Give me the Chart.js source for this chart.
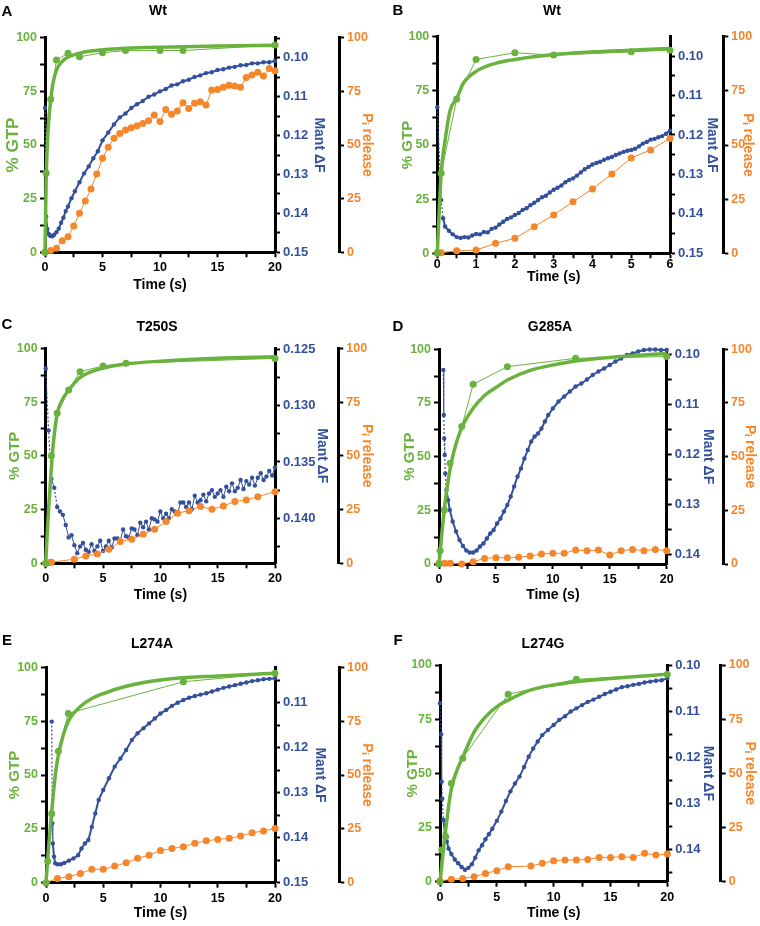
<!DOCTYPE html>
<html><head><meta charset="utf-8">
<script src="https://cdn.jsdelivr.net/npm/chart.js@4"></script>
<style>
html,body{margin:0;padding:0;background:#fff;width:760px;height:926px;overflow:hidden;font-family:"Liberation Sans",Arial,Helvetica,sans-serif;}
canvas{position:absolute;}
.lbl{position:absolute;font-weight:bold;color:#000;transform:translate(-50%,-50%);white-space:nowrap;line-height:1;}
</style></head><body>
<script>
// ---------- tick labels ----------
const gtpTicks = [0, 25, 50, 75, 100];
const piTicks = [0, 25, 50, 75, 100];
const time20Ticks = [0, 5, 10, 15, 20];
const time6Ticks = [0, 1, 2, 3, 4, 5, 6];
const mantTicksAB = [0.10, 0.11, 0.12, 0.13, 0.14, 0.15];
const mantTicksC = [0.125, 0.130, 0.135, 0.140];
const mantTicksDF = [0.10, 0.11, 0.12, 0.13, 0.14];
const mantTicksE = [0.11, 0.12, 0.13, 0.14, 0.15];

// ---------- panel A (Wt, 20 s) ----------
const A_gtpT = [0, 0.1, 0.5, 1, 2, 3, 5, 7, 10, 12, 20];
const A_gtpV = [0, 36.8, 71.3, 89.6, 92.7, 91.1, 93, 94, 94, 94, 96.6];
const A_fitT = [0, 0.1, 0.2, 0.3, 0.5, 0.7, 1, 1.5, 2, 3, 4, 5, 7, 10, 15, 20];
const A_fitV = [0, 33, 50, 60, 71, 79, 85, 89, 91, 92.8, 93.8, 94.4, 95.1, 95.6, 96.1, 96.5];
const A_piT = [0,0.5,1,1.5,2,2.5,3,3.5,4,4.5,5,5.5,6,6.5,7,7.5,8,8.5,9,9.5,10,10.5,11,11.5,12,12.5,13,13.5,14,14.5,15,15.5,16,16.5,17,17.5,18,18.5,19,19.5,20];
const A_piV = [0,0.8,1.9,5.4,7.3,12.3,18.2,23.9,29.5,36.5,43.8,48.9,53.1,55.4,57,58,59,60,61.3,64,60.9,66.6,64.3,65.8,69.7,67,69.4,70.2,68.6,75.6,75.9,76.9,77.9,77.5,76.9,81.5,82.6,83.9,82.1,85.7,84.6];
const A_mantT = [0,0.1,0.2,0.3,0.4,0.5,0.6,0.7,0.8,1.0,1.2,1.4,1.6,1.8,2.0,2.3,2.6,3.0,3.4,3.8,4.2,4.6,5.0,5.5,6,6.5,7,7.5,8,8.5,9,9.5,10,10.5,11,11.5,12,12.5,13,13.5,14,14.5,15,15.5,16,16.5,17,17.5,18,18.5,19,19.5,20];
const A_mantV = [0.1129,0.1408,0.1440,0.1452,0.1456,0.1458,0.1459,0.1457,0.1455,0.1448,0.1439,0.1424,0.1411,0.1394,0.1382,0.1361,0.1343,0.1320,0.1297,0.1279,0.1258,0.1240,0.1212,0.1192,0.1171,0.1153,0.1143,0.1129,0.1119,0.1111,0.1100,0.1094,0.1086,0.1080,0.1071,0.1068,0.1060,0.1056,0.1049,0.1045,0.1039,0.1037,0.1031,0.1029,0.1025,0.1023,0.1019,0.1018,0.1014,0.1014,0.1011,0.1011,0.1008];

// ---------- panel B (Wt, 6 s) ----------
const B_gtpT = [0, 0.1, 0.5, 1, 2, 3, 5, 6];
const B_gtpV = [0, 37, 71.2, 89.5, 92.6, 91.5, 93, 93.8];
const B_fitT = [0, 0.1, 0.2, 0.33, 0.5, 0.67, 1, 1.5, 2, 3, 4, 5, 6];
const B_fitV = [0, 37, 52, 66, 71.5, 78.5, 84, 87.7, 89.5, 91.8, 93, 93.8, 94.6];
const B_piT = [0,0.1,0.5,1,1.5,2,2.5,3,3.5,4,4.5,5,5.5,6];
const B_piV = [0.3,0.3,1.2,1.5,4.6,6.9,12.3,17.7,23.8,29.7,36.6,44,47.7,53];
const B_mantT = [0,0.1,0.15,0.2,0.3,0.4,0.5,0.6,0.7,0.8,0.9,1.0,1.1,1.2,1.3,1.4,1.5,1.6,1.7,1.8,1.9,2.0,2.1,2.2,2.3,2.4,2.5,2.6,2.7,2.8,2.9,3.0,3.1,3.2,3.3,3.4,3.5,3.6,3.7,3.8,3.9,4.0,4.1,4.2,4.3,4.4,4.5,4.6,4.7,4.8,4.9,5.0,5.1,5.2,5.3,5.4,5.5,5.6,5.7,5.8,5.9,6.0];
const B_mantV = [0.1130,0.1365,0.1411,0.1432,0.1443,0.1452,0.1459,0.1461,0.1459,0.1460,0.1455,0.1451,0.1452,0.1446,0.1447,0.1438,0.1435,0.1427,0.1420,0.1413,0.1409,0.1403,0.1398,0.1390,0.1386,0.1378,0.1372,0.1365,0.1358,0.1354,0.1346,0.1339,0.1334,0.1328,0.1320,0.1314,0.1310,0.1303,0.1295,0.1287,0.1281,0.1275,0.1271,0.1268,0.1263,0.1259,0.1256,0.1251,0.1247,0.1243,0.1240,0.1238,0.1235,0.1229,0.1222,0.1218,0.1212,0.1210,0.1206,0.1203,0.1197,0.1189];

// ---------- panel C (T250S) ----------
const C_gtpT = [0, 0.5, 1, 2, 3, 5, 7, 20];
const C_gtpV = [0, 50, 69.8, 80.6, 89.1, 91.8, 93, 95.3];
const C_fitT = [0, 0.25, 0.5, 0.67, 1, 1.5, 2, 3, 4, 5, 7, 10, 15, 20];
const C_fitV = [0, 25, 45, 56, 69.5, 76.5, 80.5, 86.5, 89.2, 90.8, 92.7, 94, 95.4, 96.1];
const C_piT = [0,0.25,0.5,2.5,3.5,4.5,5.5,6.5,7.5,8.5,9.5,10.5,11.5,12.5,13.5,14.5,15.5,16.5,17.5,18.5,20];
const C_piV = [0,0.3,0.5,1.9,3.4,4.3,6.5,10.1,11.2,13.5,15.8,19.4,23.3,24.5,26.4,25.1,26.7,28.7,29.5,31,33.3];
const C_mantT = [0,0.25,0.5,0.75,1,1.25,1.5,1.75,2,2.25,2.5,2.75,3,3.25,3.5,3.75,4,4.25,4.5,4.75,5,5.25,5.5,5.75,6,6.25,6.5,6.75,7,7.25,7.5,7.75,8,8.25,8.5,8.75,9,9.25,9.5,9.75,10,10.25,10.5,10.75,11,11.25,11.5,11.75,12,12.25,12.5,12.75,13,13.25,13.5,13.75,14,14.25,14.5,14.75,15,15.25,15.5,15.75,16,16.25,16.5,16.75,17,17.25,17.5,17.75,18,18.25,18.5,18.75,19,19.25,19.5,19.75,20];
const C_mantV = [0.1267,0.1322,0.1365,0.1373,0.1390,0.1394,0.1397,0.1406,0.1417,0.1415,0.1424,0.1431,0.1425,0.1422,0.1428,0.1430,0.1423,0.1429,0.1425,0.1420,0.1429,0.1425,0.1420,0.1426,0.1418,0.1418,0.1420,0.1410,0.1416,0.1417,0.1409,0.1410,0.1415,0.1404,0.1408,0.1403,0.1410,0.1400,0.1401,0.1403,0.1394,0.1400,0.1396,0.1400,0.1392,0.1394,0.1396,0.1386,0.1386,0.1390,0.1386,0.1392,0.1380,0.1386,0.1384,0.1379,0.1385,0.1378,0.1375,0.1381,0.1378,0.1375,0.1381,0.1372,0.1376,0.1369,0.1376,0.1373,0.1366,0.1374,0.1367,0.1370,0.1364,0.1371,0.1364,0.1360,0.1366,0.1363,0.1358,0.1362,0.1355];

// ---------- panel D (G285A) ----------
const D_gtpT = [0, 0.1, 0.47, 0.97, 2, 3, 6, 12, 20];
const D_gtpV = [0, 6.2, 25.2, 46.9, 64, 83.7, 91.9, 95.8, 96.6];
const D_fitT = [0, 0.5, 1, 1.5, 2, 3, 4, 5, 6, 8, 10, 12, 15, 20];
const D_fitV = [0, 27, 45, 56, 63.5, 72.5, 78.5, 82.2, 85.7, 90.2, 92.7, 94.6, 96.2, 98];
const D_piT = [0,0.5,1,2,3,4,5,6,7,8,9,10,11,12,13,14,15,16,17,18,19,20];
const D_piV = [0.3,0.3,0.3,0,1.1,2.6,2.9,2.9,3.1,3.7,4.7,5,5,6.5,6.2,6.5,4.2,6.2,6.8,6.2,6.8,6.2];
const D_mantT = [0.38,0.42,0.46,0.5,0.55,0.65,0.8,0.95,1.2,1.5,1.8,2.1,2.4,2.7,3.0,3.3,3.6,3.9,4.2,4.5,4.8,5.1,5.4,5.7,6.0,6.3,6.6,6.9,7.2,7.5,7.8,8.1,8.4,8.7,9.0,9.3,9.6,10,10.5,11,11.5,12,12.5,13,13.5,14,14.5,15,15.5,16,16.5,17,17.5,18,18.5,19,19.5,20];
const D_mantV = [0.1032,0.1122,0.1169,0.1202,0.1239,0.1272,0.1292,0.1312,0.1335,0.1355,0.1372,0.1384,0.1393,0.1397,0.1397,0.1393,0.1385,0.1379,0.1369,0.1359,0.1352,0.1339,0.1329,0.1315,0.1302,0.1285,0.1265,0.1245,0.1229,0.1209,0.1192,0.1175,0.1165,0.1159,0.1149,0.1135,0.1122,0.1109,0.1095,0.1085,0.1075,0.1065,0.1059,0.1051,0.1042,0.1035,0.1029,0.1022,0.1015,0.1009,0.1002,0.0999,0.0995,0.0992,0.0991,0.0991,0.0992,0.0992];

// ---------- panel E (L274A) ----------
const E_gtpT = [0, 0.15, 0.5, 1.08, 1.95, 12, 20];
const E_gtpV = [0, 10, 32, 61, 78.6, 93.3, 97.2];
const E_fitT = [0, 0.25, 0.5, 0.75, 1, 1.5, 2, 3, 4, 5, 7, 10, 15, 20];
const E_fitV = [0, 18, 33, 47, 57, 68.5, 75.5, 81.8, 85.5, 87.8, 91.2, 94.1, 96, 97.2];
const E_piT = [0,1,2,3,4,5,6,7,8,9,10,11,12,13,14,15,16,17,18,19,20];
const E_piV = [0,2,2.8,4.3,6.2,6.2,7.7,9.3,11.3,12.8,14.9,15.9,16.7,18.3,19.5,20.1,20.6,21.7,23.2,24,25.2];
const E_mantT = [0.5,0.55,0.6,0.7,0.8,1.0,1.3,1.6,2.0,2.4,2.8,3.1,3.4,3.7,4.0,4.3,4.6,5.0,5.5,6.0,6.5,7.0,7.5,8.0,8.5,9.0,9.5,10,10.5,11,11.5,12,12.5,13,13.5,14,14.5,15,15.5,16,16.5,17,17.5,18,18.5,19,19.5,20];
const E_mantV = [0.1142,0.1368,0.1413,0.1442,0.1457,0.1459,0.1459,0.1456,0.1451,0.1446,0.1439,0.1424,0.1413,0.1405,0.1376,0.1346,0.1316,0.1294,0.1268,0.1242,0.1224,0.1205,0.1183,0.1168,0.1157,0.1146,0.1135,0.1124,0.1116,0.1107,0.1100,0.1094,0.1089,0.1085,0.1082,0.1079,0.1075,0.1071,0.1067,0.1064,0.1061,0.1058,0.1055,0.1052,0.1050,0.1048,0.1047,0.1046];

// ---------- panel F (L274G) ----------
const F_gtpT = [0, 0.15, 0.5, 1, 2, 6, 12, 20];
const F_gtpV = [0, 14.6, 20.8, 45.4, 57, 86.5, 93.4, 95.7];
const F_fitT = [0, 0.5, 1, 1.5, 2, 3, 4, 5, 6, 8, 10, 12, 15, 20];
const F_fitV = [0, 24, 43, 51.5, 57.5, 69, 76, 80.8, 83.8, 88.5, 90.8, 92.3, 93.8, 95.7];
const F_piT = [0,1,2,3,4,5,6,8,9,10,11,12,13,14,15,16,17,18,19,20];
const F_piV = [0.3,1.1,1.5,2.3,3.8,5.1,6.9,7.2,8.5,9.7,10,10,10.3,11.2,11.2,11.5,11.2,13.1,12.3,12.8];
const F_mantT = [0,0.1,0.15,0.2,0.3,0.45,0.6,0.75,1.0,1.3,1.6,1.9,2.2,2.5,2.8,3.1,3.4,3.7,4.0,4.3,4.6,5.0,5.4,5.8,6.2,6.6,7.0,7.4,7.8,8.2,8.6,9.0,9.5,10,10.5,11,11.5,12,12.5,13,13.5,14,14.5,15,15.5,16,16.5,17,17.5,18,18.5,19,19.5,20];
const F_mantV = [0.1083,0.1150,0.1253,0.1290,0.1336,0.1365,0.1383,0.1398,0.1410,0.1422,0.1430,0.1438,0.1444,0.1440,0.1432,0.1418,0.1402,0.1391,0.1378,0.1367,0.1355,0.1338,0.1318,0.1295,0.1274,0.1257,0.1242,0.1221,0.1199,0.1181,0.1166,0.1152,0.1141,0.1130,0.1119,0.1111,0.1101,0.1094,0.1087,0.1080,0.1075,0.1069,0.1063,0.1058,0.1053,0.1048,0.1046,0.1043,0.1041,0.1038,0.1036,0.1034,0.1033,0.1029];

// ---------- styling / layout ----------
const GREEN = '#6ab23e', BLUE = '#34509c', ORANGE = '#f5862b';
Chart.defaults.font.family = '"Liberation Sans", Arial, Helvetica, sans-serif';
Chart.defaults.font.weight = 'bold';

const panels = [
  {letter:'A', title:'Wt', box:[0,0,380,300], L:45, R:275, T:37.7, B:252.3, OX:339, gtpX:13, mantX:319, piX:367, timeY:285, gtpFont:17, xPad:3, mantW:2,
   titlePos:[158,10], letterPos:[7,10], xMax:20, xTicks:time20Ticks, mMin:0.0948, mMax:0.15, mTicks:mantTicksAB, mDec:2,
   gtpT:A_gtpT, gtpV:A_gtpV, fitT:A_fitT, fitV:A_fitV, piT:A_piT, piV:A_piV, mantT:A_mantT, mantV:A_mantV},
  {letter:'B', title:'Wt', box:[380,0,380,300], L:437.3, R:670, T:36.7, B:253.3, OX:723.3, gtpX:408, mantX:712, piX:748, timeY:277.5, gtpFont:15, xPad:-1, mantW:2,
   titlePos:[552,10], letterPos:[398,9], xMax:6, xTicks:time6Ticks, mMin:0.0951, mMax:0.15, mTicks:mantTicksAB, mDec:2,
   gtpT:B_gtpT, gtpV:B_gtpV, fitT:B_fitT, fitV:B_fitV, piT:B_piT, piV:B_piV, mantT:B_mantT, mantV:B_mantV},
  {letter:'C', title:'T250S', box:[0,300,380,310], L:45.7, R:275, T:348.3, B:563.3, OX:338.3, gtpX:15, mantX:321.7, piX:366.7, timeY:595, gtpFont:15, xPad:3, mantW:1,
   titlePos:[157,326], letterPos:[7,323], xMax:20, xTicks:time20Ticks, mMin:0.12491, mMax:0.1440, mTicks:mantTicksC, mDec:3,
   gtpT:C_gtpT, gtpV:C_gtpV, fitT:C_fitT, fitV:C_fitV, piT:C_piT, piV:C_piV, mantT:C_mantT, mantV:C_mantV},
  {letter:'D', title:'G285A', box:[380,300,380,310], L:439, R:666.7, T:349.3, B:564, OX:723, gtpX:410, mantX:708, piX:750, timeY:595, gtpFont:15, xPad:3, mantW:2,
   titlePos:[550,326], letterPos:[398,325], xMax:20, xTicks:time20Ticks, mMin:0.09906, mMax:0.142, mTicks:mantTicksDF, mDec:2,
   gtpT:D_gtpT, gtpV:D_gtpV, fitT:D_fitT, fitV:D_fitV, piT:D_piT, piV:D_piV, mantT:D_mantT, mantV:D_mantV},
  {letter:'E', title:'L274A', box:[0,610,380,316], L:46, R:275, T:667.3, B:882.7, OX:339.3, gtpX:15, mantX:320, piX:366.7, timeY:913, gtpFont:15, xPad:3, mantW:2,
   titlePos:[152,643], letterPos:[7,639], xMax:20, xTicks:time20Ticks, mMin:0.10213, mMax:0.15, mTicks:mantTicksE, mDec:2,
   gtpT:E_gtpT, gtpV:E_gtpV, fitT:E_fitT, fitV:E_fitV, piT:E_piT, piV:E_piV, mantT:E_mantT, mantV:E_mantV},
  {letter:'F', title:'L274G', box:[380,610,380,316], L:440, R:667.3, T:665, B:881.7, OX:720.7, gtpX:413, mantX:708, piX:750, timeY:913, gtpFont:15, xPad:3, mantW:2,
   titlePos:[543,643], letterPos:[398,639], xMax:20, xTicks:time20Ticks, mMin:0.10, mMax:0.147, mTicks:mantTicksDF, mDec:2,
   gtpT:F_gtpT, gtpV:F_gtpV, fitT:F_fitT, fitV:F_fitV, piT:F_piT, piV:F_piV, mantT:F_mantT, mantV:F_mantV}
];

const near = (arr, v) => arr.some(m => Math.abs(m - v) < 1e-9);
function withMinor(majors, lo, hi) {
  const out = majors.slice();
  const step = majors[1] - majors[0];
  for (let i = 0; i < majors.length - 1; i++) out.push((majors[i] + majors[i+1]) / 2);
  const before = majors[0] - step/2, after = majors[majors.length-1] + step/2;
  if (before >= lo - 1e-12) out.push(before);
  if (after <= hi + 1e-12) out.push(after);
  return out.sort((a,b) => a-b);
}
const pts = (t, v) => t.map((x, i) => ({x: x, y: v[i]}));
const halfLine = size => size * 1.2 / 2;
const longJump = ctx => Math.abs(ctx.p1.y - ctx.p0.y) > 14;

function addLabel(text, pos, size) {
  const d = document.createElement('div');
  d.className = 'lbl';
  d.textContent = text;
  d.style.left = pos[0] + 'px';
  d.style.top = pos[1] + 'px';
  d.style.fontSize = size + 'px';
  document.body.appendChild(d);
}

function build(p) {
  const [bx, by, bw, bh] = p.box;
  const cv = document.createElement('canvas');
  cv.width = bw; cv.height = bh;
  cv.style.left = bx + 'px'; cv.style.top = by + 'px';
  cv.style.width = bw + 'px'; cv.style.height = bh + 'px';
  document.body.appendChild(cv);

  const tickGrid = {drawOnChartArea:false, drawTicks:true, tickLength:5, tickColor:'#000', tickWidth:2};
  const border = {color:'#000', width:3};
  const xTickList = withMinor(p.xTicks, 0, p.xMax);
  const gTickList = withMinor(gtpTicks, 0, 100);
  const mTickList = withMinor(p.mTicks, p.mMin, p.mMax);

  new Chart(cv, {
    type: 'scatter',
    data: {datasets: [
      {data: pts(p.fitT, p.fitV), yAxisID:'yG', showLine:true, borderColor:GREEN, borderWidth:3.5,
       pointRadius:0, cubicInterpolationMode:'monotone', clip:false},
      {data: pts(p.gtpT, p.gtpV), yAxisID:'yG', showLine:true, borderColor:GREEN, borderWidth:1,
       pointRadius:3.5, pointBackgroundColor:GREEN, pointBorderWidth:0, clip:false},
      {data: pts(p.piT, p.piV), yAxisID:'yP', showLine:true, borderColor:ORANGE, borderWidth:1,
       pointRadius:3.5, pointBackgroundColor:ORANGE, pointBorderWidth:0, clip:false},
      {data: pts(p.mantT, p.mantV), yAxisID:'yM', showLine:true, borderColor:BLUE, borderWidth:p.mantW,
       segment:{borderDash: ctx => longJump(ctx) ? [2,2] : undefined, borderWidth: ctx => longJump(ctx) ? 1.2 : p.mantW},
       pointRadius:2.2, pointBackgroundColor:BLUE, pointBorderWidth:0, clip:false}
    ]},
    options: {
      responsive:false, animation:false, devicePixelRatio:1,
      layout: {padding: {left:0, right:0, top: p.T - by, bottom:0}},
      plugins: {legend:{display:false}, tooltip:{enabled:false}},
      scales: {
        x: {type:'linear', position:'bottom', min:0, max:p.xMax,
            afterBuildTicks: ax => { ax.ticks = xTickList.map(v => ({value:v})); },
            afterFit: s => { s.height = bh - (p.B - by); },
            ticks: {autoSkip:false, maxRotation:0, padding:p.xPad, color:'#000', font:{size:12.5, weight:'bold'},
                    callback: v => near(p.xTicks, v) ? String(v) : ''},
            grid: tickGrid, border: border,
            title: {display:true, text:'Time (s)', color:'#000', font:{size:14, weight:'bold'},
                    padding:{top:0, bottom: bh - (p.timeY - by) - halfLine(14)}}},
        yG: {type:'linear', position:'left', min:0, max:100,
            afterBuildTicks: ax => { ax.ticks = gTickList.map(v => ({value:v})); },
            afterFit: s => { s.width = p.L - bx; },
            ticks: {autoSkip:false, padding:3, color:GREEN, font:{size:12.5, weight:'bold'},
                    callback: v => near(gtpTicks, v) ? String(v) : ''},
            grid: tickGrid, border: border,
            title: {display:true, text:'% GTP', color:GREEN, font:{size:p.gtpFont, weight:'bold'},
                    padding:{top:(p.gtpX - bx) - halfLine(p.gtpFont), bottom:0}}},
        yM: {type:'linear', position:'right', weight:0, reverse:true, min:p.mMin, max:p.mMax,
            afterBuildTicks: ax => { ax.ticks = mTickList.map(v => ({value:v})); },
            afterFit: s => { s.width = p.OX - p.R; },
            ticks: {autoSkip:false, padding:3, color:BLUE, font:{size:13, weight:'bold'},
                    callback: v => near(p.mTicks, v) ? v.toFixed(p.mDec) : ''},
            grid: tickGrid, border: border,
            title: {display:true, text:'Mant \u0394F', color:BLUE, font:{size:14, weight:'bold'},
                    padding:{top:(p.OX - p.mantX) - halfLine(14), bottom:0}}},
        yP: {type:'linear', position:'right', weight:1, min:0, max:100,
            afterBuildTicks: ax => { ax.ticks = piTicks.map(v => ({value:v})); },
            afterFit: s => { s.width = bx + bw - p.OX; },
            ticks: {autoSkip:false, padding:3, color:ORANGE, font:{size:12.5, weight:'bold'},
                    callback: v => String(v)},
            grid: tickGrid, border: border,
            title: {display:true, text:'P\u1D62 release', color:ORANGE, font:{size:14, weight:'bold'},
                    padding:{top:(bx + bw - p.piX) - halfLine(14), bottom:0}}}
      }
    }
  });

  addLabel(p.title, p.titlePos, 14);
  addLabel(p.letter, p.letterPos, 15);
}

panels.forEach(build);
</script>
</body></html>
